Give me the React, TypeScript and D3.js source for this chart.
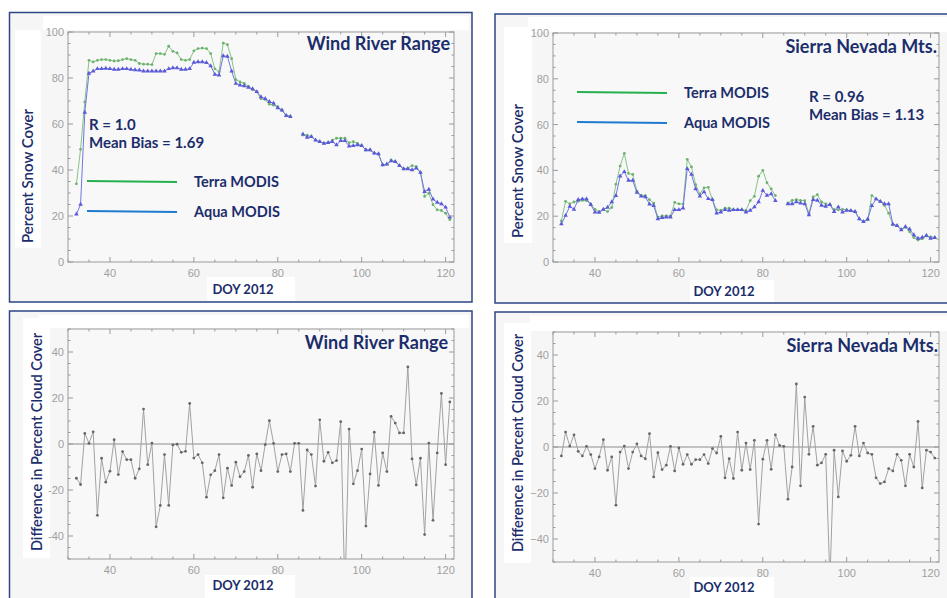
import React from 'react';
import * as d3 from 'd3';

// day of year, one point per day
const doy = [
  32, 33, 34, 35, 36, 37, 38, 39, 40, 41,
  42, 43, 44, 45, 46, 47, 48, 49, 50, 51,
  52, 53, 54, 55, 56, 57, 58, 59, 60, 61,
  62, 63, 64, 65, 66, 67, 68, 69, 70, 71,
  72, 73, 74, 75, 76, 77, 78, 79, 80, 81,
  82, 83, 84, 85, 86, 87, 88, 89, 90, 91,
  92, 93, 94, 95, 96, 97, 98, 99, 100, 101,
  102, 103, 104, 105, 106, 107, 108, 109, 110, 111,
  112, 113, 114, 115, 116, 117, 118, 119, 120, 121,
];

const windTerra = [
  34, 49, 69.6, 87.7, 87, 87.7, 88, 88, 87.7, 87.4,
  87.5, 88, 88.4, 88, 87.7, 86.3, 86, 86, 85.8, 90.6,
  90.6, 90.3, 93.8, 91.6, 90.9, 88, 87.7, 88, 91.8, 92.8,
  93, 92.8, 90.6, 84, 82.7, 95.2, 94.5, 88.4, 79.3, 78.3,
  77.6, 76.4, 75, 74, 71, 70.7, 68.6, 68.2, 67.5, 66,
  63.9, 63.4, null, null, 55.2, 55.2, 54.5, 53, 52.3, 51.6,
  51.9, 53, 53.8, 53.8, 53.8, 51.9, 52.3, 51.6, 50.6, 48.7,
  48.7, 47.3, 47, 42.2, 42.5, 44.4, 43.6, 41.9, 40.5, 40.8,
  41.9, 41.5, 38.9, 28.5, 29.9, 24.9, 22.7, 22.4, 21.2, 18.4,
];

const windAqua = [
  20.8, 25, 65, 82, 83, 84, 84, 84.2, 84, 83.7,
  83.7, 84, 84, 83.7, 83.5, 83.4, 83, 83, 83, 83,
  83, 83, 84, 84.4, 84.4, 83.7, 83.7, 84, 86.8, 87,
  87, 86.7, 85.3, 81.6, 81.2, 89.6, 89.4, 83, 77.6, 76.9,
  76.6, 75.9, 75.3, 74, 71.8, 71, 69.7, 69, 67, 66,
  63.6, 63.2, null, null, 55.6, 54.2, 54.5, 53, 52.3, 51.6,
  51.9, 52.3, 50.9, 52.7, 52.7, 50.4, 50.6, 50.9, 50.6, 48.7,
  48.7, 47.3, 47, 42.2, 42.5, 43.9, 43.6, 41.9, 40.5, 40.5,
  40, 40.8, 38.9, 30.6, 31.6, 27.3, 25.9, 25.3, 23.8, 19.5,
];

const sierraTerra = [
  18, 26.5, 25.4, 26.2, 26.5, 26.9, 26.8, 25.4, 23, 22,
  23, 22, 23.8, 34, 41.9, 47.4, 38.7, 38.2, 30.9, 29.1,
  29, 27.2, 25.7, 19.6, 20.1, 20.1, 20.1, 26, 25.4, 25.3,
  44.8, 41.5, 33.8, 29.7, 32.4, 32.6, 27.2, 22.8, 22.5, 23.5,
  23.5, 22.8, 22.8, 22.8, 22.5, 26.8, 28.7, 37.5, 40, 34.6,
  31.9, 29, null, null, 25.7, 26.9, 27.2, 26.9, 26.8, 21.3,
  28.4, 29.4, 26.2, 25.4, 25, 23, 22.8, 23, 22.8, 22.4,
  22, 18.8, 17.6, 18.4, 29, 27.5, 26.5, 24.7, 21.3, 16.2,
  15.9, 14.3, 15.1, 13.2, 10.7, 9.6, 10.1, 11.3, 11, 10.7,
];

const sierraAqua = [
  16.6, 20.3, 24.3, 23, 27.2, 27.5, 27.5, 25, 21.8, 21.6,
  23, 23.8, 26.2, 29, 37.5, 39.4, 35.6, 35.6, 30.4, 28.7,
  28.4, 25.3, 24.6, 18.8, 19.4, 19.6, 19.6, 22.8, 22.8, 23.5,
  40.7, 38.2, 31.9, 28.7, 30.6, 27.6, 27.2, 21.3, 21.8, 22.8,
  22.5, 22.8, 22.8, 22.8, 21.8, 22.5, 24, 26.2, 31.2, 29.1,
  29.7, 26.8, null, null, 25.4, 25.4, 26.2, 25.7, 25.4, 20.6,
  27.2, 26.9, 24.7, 24.3, 25, 22, 24, 21.8, 22.5, 22.4,
  22, 18.8, 17.6, 18.7, 24.6, 27.5, 26.5, 25.4, 25.4, 16.5,
  15.9, 14, 15.4, 14.3, 11.8, 10.3, 10.7, 11.6, 10.3, 10.6,
];

// difference in percent cloud cover (Terra - Aqua)
const windDiff = [
  -14.9, -17.6, 4.6, 0.3, 5.3, -31, -6.2, -16.6, -11.8, 1.9,
  -13.3, -3.3, -6.8, -6.8, -14.9, -10.8, 15.2, -9, 0.4, -36,
  -26.7, -4.6, -26.7, -0.4, -0.1, -3.6, -3.2, 17.6, -6.1, -4.6,
  -8.2, -23.1, -13.4, -11.6, -4.6, -23.4, -10.5, -18, -7.9, -14.2,
  -12, -5, -18.8, -4.3, -11.6, -0.3, 10.1, 0.3, -12, -4.6,
  -4.3, -12, 0.3, 0.3, -28.9, -2.6, -4.6, -18.3, 10.5, -7.5,
  -3.6, -8.2, -7.2, 9.7, -65, 6.5, -17.3, -11.6, -2.2, -35.7,
  -13, 5.1, -18, -3.9, -12, 12, 9.1, 4.8, 4.8, 33.5,
  -6.5, -17.8, -6.2, -39.4, 0.4, -33.2, -3.9, 22, -9, 18.3,
];

const sierraDiff = [
  -3.9, 6.5, 0.4, 5.3, -1.9, -3.9, 0.3, -3.3, -9.4, -4.3,
  3.2, -10.1, -4.3, -25.3, -2.2, 0.4, -9.4, -2.2, 1.4, -3.9,
  -5.1, 5.8, -13, -2.5, -9.8, -7.9, 0.3, -10.4, -0.4, -7.5,
  -3.3, -7.5, -5.5, -5.5, -3.3, -7.2, -0.7, -2.6, 4.6, -13.4,
  -5.1, -13.7, 6.5, -10.1, 1.7, -9.8, 2.9, -33.5, -5.3, 2.9,
  -9.7, 5.3, 0.7, 0.3, -22.7, -8.7, 27.4, -16.9, 21.7, -3.2,
  9, -7.9, -6.9, -3.2, -58, -1.4, -21.7, -1.7, -6.2, -3.6,
  9, -3.9, 1.7, -2.6, -3.2, -13.4, -15.9, -15.2, -9.4, -10.4,
  -3.2, -5.8, -16.9, -3.2, -8.7, 11.1, -17.8, -1.4, -2.2, -4.8,
];

const xTickLabels = [40, 60, 80, 100, 120];
const snowTickLabels = [0, 20, 40, 60, 80, 100];
const diffTickLabels = [-40, -20, 0, 20, 40];

const NAVY = '#1c2d6b';
const LABEL_FONT = 'Lato, "Open Sans", sans-serif';
const TICK_FONT = '"Liberation Sans", "DejaVu Sans", sans-serif';

function Ticks({ x, y, xMinor, yMinor, xMajor, yMajor, p }) {
  const out = [];
  const M = 5;
  const m = 2.5;
  xMinor.forEach((v) => {
    const len = xMajor.includes(v) ? M : m;
    out.push(<line key={`xb${v}`} x1={x(v)} x2={x(v)} y1={p.b} y2={p.b - len} />);
    out.push(<line key={`xt${v}`} x1={x(v)} x2={x(v)} y1={p.t} y2={p.t + len} />);
  });
  yMinor.forEach((v) => {
    const len = yMajor.includes(v) ? M : m;
    out.push(<line key={`yl${v}`} x1={p.l} x2={p.l + len} y1={y(v)} y2={y(v)} />);
    out.push(<line key={`yr${v}`} x1={p.r} x2={p.r - len} y1={y(v)} y2={y(v)} />);
  });
  return <g stroke="#9a9a9a" strokeWidth={1}>{out}</g>;
}

function Panel({ cfg }) {
  const p = cfg.plot;
  const x = d3.scaleLinear().domain([30, 122]).range([p.l, p.r]);
  const y = d3.scaleLinear().domain(cfg.yDomain).range([p.b, p.t]);
  const xMinor = d3.range(30, 123, 5);
  const yMinor = d3.range(cfg.yDomain[0], cfg.yDomain[1] + 1, 5);
  const clipId = `clip-${cfg.id}`;

  const line = d3.line()
    .defined((d) => d[1] != null)
    .x((d) => x(d[0]))
    .y((d) => y(d[1]));

  const tri = d3.symbol().type(d3.symbolTriangle).size(9)();
  const b = cfg.box;

  return (
    <g>
      {/* panel frame */}
      <rect x={b.x} y={b.y} width={b.w} height={b.h} fill="#f6f6f6" stroke="#2c4585" strokeWidth={1.5} />
      <rect x={cfg.strip.x} y={cfg.strip.y} width={cfg.strip.w} height={cfg.strip.h} fill="#ffffff" />
      <rect x={cfg.yLabelBox.x} y={cfg.yLabelBox.y} width={cfg.yLabelBox.w} height={cfg.yLabelBox.h} fill="#ffffff" />
      <rect x={cfg.xLabelBox.x} y={cfg.xLabelBox.y} width={cfg.xLabelBox.w} height={cfg.xLabelBox.h} fill="#ffffff" />

      {/* plot area */}
      <rect x={p.l} y={p.t} width={p.r - p.l} height={p.b - p.t} fill="#f8f8f8" />
      <defs>
        <clipPath id={clipId}>
          <rect x={p.l} y={p.t} width={p.r - p.l} height={p.b - p.t} />
        </clipPath>
      </defs>

      {cfg.zeroLine && (
        <line x1={p.l} x2={p.r} y1={y(0)} y2={y(0)} stroke="#8c8c8c" strokeWidth={1} />
      )}

      <g clipPath={`url(#${clipId})`}>
        {cfg.series.map((s) => {
          const pts = doy.map((d, i) => [d, s.values[i]]);
          return (
            <g key={s.name}>
              <path d={line(pts)} fill="none" stroke={s.color} strokeWidth={1} />
              {pts.filter((d) => d[1] != null).map((d) => (
                s.marker === 'triangle' ? (
                  <path key={d[0]} d={tri} transform={`translate(${x(d[0])},${y(d[1])})`} fill={s.markColor} />
                ) : (
                  <circle key={d[0]} cx={x(d[0])} cy={y(d[1])} r={1.4} fill={s.markColor} />
                )
              ))}
            </g>
          );
        })}
      </g>

      <rect x={p.l} y={p.t} width={p.r - p.l} height={p.b - p.t} fill="none" stroke="#9a9a9a" strokeWidth={1} />
      <Ticks x={x} y={y} xMinor={xMinor} yMinor={yMinor} xMajor={xTickLabels} yMajor={cfg.yTicks} p={p} />

      <g fill="#a0a0a0" fontFamily={TICK_FONT} fontSize={11}>
        {xTickLabels.map((v) => (
          <text key={v} x={x(v)} y={p.b + 15} textAnchor="middle">{v}</text>
        ))}
        {cfg.yTicks.map((v) => (
          <text key={v} x={p.l - 4} y={y(v) + 4} textAnchor="end">
            {v < 0 ? `${cfg.minus}${Math.abs(v)}` : v}
          </text>
        ))}
      </g>

      <g fill={NAVY} fontFamily={LABEL_FONT} fontWeight={700}>
        <text x={cfg.title.x} y={cfg.title.y} textAnchor="end" fontSize={18}>{cfg.title.text}</text>
        <text x={cfg.xLabel.x} y={cfg.xLabel.y} textAnchor="middle" fontSize={13}>DOY 2012</text>
        <text
          transform={`translate(${cfg.yLabel.x},${cfg.yLabel.y}) rotate(-90)`}
          textAnchor="middle"
          fontSize={cfg.yLabel.size}
          fontWeight={600}
        >
          {cfg.yLabel.text}
        </text>
      </g>

      {cfg.legend && (
        <g>
          <line x1={cfg.legend.x1} x2={cfg.legend.x2} y1={cfg.legend.yTerra} y2={cfg.legend.yTerra + 1} stroke="#25b04f" strokeWidth={2} />
          <line x1={cfg.legend.x1} x2={cfg.legend.x2} y1={cfg.legend.yAqua} y2={cfg.legend.yAqua + 1} stroke="#1f7bcf" strokeWidth={2} />
          <g fill={NAVY} fontFamily={LABEL_FONT} fontWeight={700} fontSize={14.5}>
            <text x={cfg.legend.tx} y={cfg.legend.yTerra + 6}>Terra MODIS</text>
            <text x={cfg.legend.tx} y={cfg.legend.yAqua + 6}>Aqua MODIS</text>
          </g>
        </g>
      )}
      {cfg.stats && (
        <g fill={NAVY} fontFamily={LABEL_FONT} fontWeight={700} fontSize={15}>
          <text x={cfg.stats.x} y={cfg.stats.y}>{cfg.stats.r}</text>
          <text x={cfg.stats.x} y={cfg.stats.y + 18}>{cfg.stats.bias}</text>
        </g>
      )}
    </g>
  );
}

const snowSeries = (terra, aqua) => [
  { name: 'terra', values: terra, color: '#86c486', markColor: '#6cb26c', marker: 'circle' },
  { name: 'aqua', values: aqua, color: '#7373e6', markColor: '#5a5ad8', marker: 'triangle' },
];

const diffSeries = (vals) => [
  { name: 'diff', values: vals, color: '#a2a2a2', markColor: '#666666', marker: 'circle' },
];

const panels = [
  {
    id: 'wind-snow',
    box: { x: 9.5, y: 12.5, w: 462.5, h: 289.5 },
    strip: { x: 43, y: 16, w: 426, h: 14 },
    yLabelBox: { x: 15, y: 30, w: 26, h: 218 },
    xLabelBox: { x: 207, y: 277, w: 88, h: 24 },
    plot: { l: 68, r: 454, t: 32, b: 262 },
    yDomain: [0, 100],
    yTicks: snowTickLabels,
    minus: '-',
    series: snowSeries(windTerra, windAqua),
    title: { text: 'Wind River Range', x: 450, y: 50 },
    xLabel: { x: 243, y: 294 },
    yLabel: { text: 'Percent Snow Cover', x: 33, y: 176, size: 15 },
    legend: { x1: 87, x2: 177, yTerra: 181, yAqua: 211, tx: 194 },
    stats: { x: 89, y: 130, r: 'R = 1.0', bias: 'Mean Bias = 1.69' },
  },
  {
    id: 'sierra-snow',
    box: { x: 495, y: 14, w: 470, h: 289 },
    strip: { x: 528, y: 17, w: 420, h: 15 },
    yLabelBox: { x: 504, y: 27, w: 28, h: 216 },
    xLabelBox: { x: 690, y: 280, w: 84, h: 22 },
    plot: { l: 553, r: 939, t: 33, b: 262 },
    yDomain: [0, 100],
    yTicks: snowTickLabels,
    minus: '-',
    series: snowSeries(sierraTerra, sierraAqua),
    title: { text: 'Sierra Nevada Mts.', x: 937, y: 53 },
    xLabel: { x: 724, y: 296 },
    yLabel: { text: 'Percent Snow Cover', x: 523, y: 171, size: 15 },
    legend: { x1: 577, x2: 667, yTerra: 92, yAqua: 122, tx: 684 },
    stats: { x: 809, y: 102, r: 'R = 0.96', bias: 'Mean Bias = 1.13' },
  },
  {
    id: 'wind-diff',
    box: { x: 9.5, y: 311, w: 462.5, h: 300 },
    strip: { x: 39, y: 315, w: 430, h: 13 },
    yLabelBox: { x: 23, y: 318, w: 27, h: 240 },
    xLabelBox: { x: 205, y: 575, w: 90, h: 23 },
    plot: { l: 68, r: 454, t: 329, b: 559 },
    yDomain: [-50, 50],
    yTicks: diffTickLabels,
    minus: '-',
    zeroLine: true,
    series: diffSeries(windDiff),
    title: { text: 'Wind River Range', x: 448, y: 349 },
    xLabel: { x: 243, y: 590 },
    yLabel: { text: 'Difference in Percent Cloud Cover', x: 42, y: 442, size: 14.5 },
  },
  {
    id: 'sierra-diff',
    box: { x: 495, y: 312, w: 470, h: 300 },
    strip: { x: 530, y: 316, w: 420, h: 15 },
    yLabelBox: { x: 504, y: 323, w: 27, h: 240 },
    xLabelBox: { x: 690, y: 577, w: 84, h: 21 },
    plot: { l: 553, r: 939, t: 332, b: 562 },
    yDomain: [-50, 50],
    yTicks: diffTickLabels,
    minus: '\u2212',
    zeroLine: true,
    series: diffSeries(sierraDiff),
    title: { text: 'Sierra Nevada Mts.', x: 938, y: 352 },
    xLabel: { x: 724, y: 592 },
    yLabel: { text: 'Difference in Percent Cloud Cover', x: 523, y: 443, size: 14.5 },
  },
];

export default function App() {
  return (
    <svg
      width={947}
      height={598}
      style={{ position: 'absolute', left: 0, top: 0, background: '#ffffff' }}
    >
      {panels.map((cfg) => <Panel key={cfg.id} cfg={cfg} />)}
    </svg>
  );
}
